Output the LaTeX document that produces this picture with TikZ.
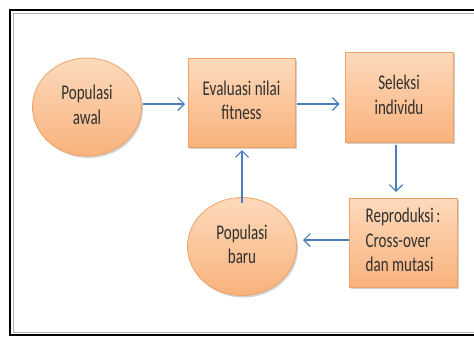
\documentclass[tikz,border=0pt]{standalone}
\usepackage{fontspec}
\usepackage{graphicx}
\setmainfont{Carlito}
\usetikzlibrary{shapes.geometric,shadows,arrows.meta}
\definecolor{orfill}{HTML}{FDDABC}
\definecolor{orfilldark}{HTML}{F9B27C}
\definecolor{orline}{HTML}{F0A266}
\definecolor{arrowblue}{HTML}{4A7EBB}
\definecolor{txt}{HTML}{303030}
\newcommand{\cond}[3][0pt]{\raisebox{#1}{\scalebox{0.72}[1]{\begin{tabular}{@{}#2@{}}#3\end{tabular}}}}
\tikzset{
  x=1bp, y=-1bp,
  flowbox/.style={rectangle, draw=orline, line width=0.8bp,
    top color=orfill, bottom color=orfilldark,
    drop shadow={shadow xshift=1.5bp, shadow yshift=-2bp, fill=black!35, opacity=0.5},
    minimum width=107bp, minimum height=89bp, align=center,
    font=\fontsize{21}{24.5}\selectfont, text=txt, inner sep=0pt},
  flowell/.style={ellipse, draw=orline, line width=0.8bp,
    top color=orfill, bottom color=orfilldark,
    drop shadow={shadow xshift=1.5bp, shadow yshift=-2bp, fill=black!35, opacity=0.5},
    minimum width=109bp, minimum height=98bp, align=center,
    font=\fontsize{21}{24.5}\selectfont, text=txt, inner sep=0pt},
  flowarrow/.style={draw=arrowblue, line width=1.2bp,
    -{Straight Barb[length=6.5bp,width=13bp,line width=1.2bp]}},
}
\begin{document}
\begin{tikzpicture}
\useasboundingbox (0,0) rectangle (474,337);
\fill[white] (0,0) rectangle (474,337);
\draw[line width=2.2bp, black] (480,10) -- (10,10) -- (10,335) -- (480,335);
\draw[line width=0.6bp, black!30] (480,13) -- (13,13) -- (13,332) -- (480,332);

\node[flowell] (awal) at (87,107) {\cond{c}{Populasi\\awal}};
\node[flowbox] (eval) at (241.5,102.5) {\cond[8bp]{c}{Evaluasi nilai\\fitness}};
\node[flowbox, minimum width=108bp, minimum height=90bp] (sel) at (399,97)
  {\cond[10bp]{c}{Seleksi\\individu}};
\node[flowbox, minimum width=108bp] (rep) at (403,242.5) {\cond[-3bp]{l}{Reproduksi\,:\\Cross-over\\dan mutasi}};
\node[flowell] (baru) at (242,246.5) {\cond{c}{Populasi\\baru}};

\draw[flowarrow] ([xshift=1bp]awal.east |- 0,104) -- (185,104);
\draw[flowarrow] ([xshift=2bp]eval.east |- 0,104) -- ([xshift=-5bp]sel.west |- 0,104);
\draw[flowarrow] ([yshift=-3bp]sel.south -| 396,0) -- (396,192);
\draw[flowarrow] (rep.west |- 0,240) -- (303,240);
\draw[flowarrow] ([yshift=-6bp]baru.north) -- (242,150);
\end{tikzpicture}
\end{document}
